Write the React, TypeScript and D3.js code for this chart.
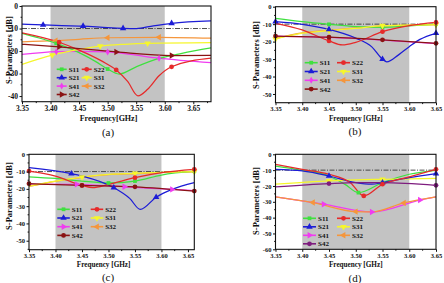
import * as d3 from 'd3';
import { useRef, useEffect } from 'react';

// [frequency GHz, dB, 1 = marker drawn]
type Pt = [number, number, number?];

// (a)
const aS11: Pt[] = [[3.35, -12.1], [3.38, -14.2], [3.41, -16.6, 1], [3.45, -20.7], [3.48, -24.8], [3.50, -28, 1], [3.52, -30.2], [3.55, -27], [3.59, -23.3], [3.63, -21], [3.681, -18.6]];
const aS21: Pt[] = [[3.35, -8.0], [3.387, -8.4, 1], [3.42, -8.7], [3.457, -8.9, 1], [3.50, -9.6], [3.527, -9.9, 1], [3.55, -10], [3.58, -8.8], [3.612, -7.7, 1], [3.681, -6.6]];
const aS41: Pt[] = [[3.35, -21.5], [3.41, -20.3, 1], [3.45, -20.1], [3.50, -20.4, 1], [3.54, -21.5], [3.59, -23.2, 1], [3.681, -25.2]];
const aS42: Pt[] = [[3.35, -17], [3.415, -18.1, 1], [3.515, -20.4, 1], [3.612, -22.0, 1], [3.681, -21.9]];
const aS22: Pt[] = [[3.35, -11.9], [3.415, -16.1, 1], [3.45, -19.6], [3.49, -24.5], [3.515, -28.4, 1], [3.535, -33.5], [3.553, -39.9], [3.57, -37], [3.59, -31], [3.612, -27, 1], [3.681, -23.2]];
const aS31: Pt[] = [[3.35, -25.9], [3.403, -21.8, 1], [3.45, -19.3], [3.487, -17.8, 1], [3.53, -17], [3.57, -16.6, 1], [3.681, -16.3]];
const aS32: Pt[] = [[3.35, -15.9], [3.409, -15.4, 1], [3.45, -14.8], [3.50, -14.1, 1], [3.59, -13.9, 1], [3.681, -14.3]];

// (b)
const bS11: Pt[] = [[3.35, -6.7], [3.40, -8.6], [3.45, -10.1, 1], [3.50, -11.4], [3.55, -11.8, 1], [3.60, -11.0], [3.65, -10.0, 1]];
const bS21: Pt[] = [[3.35, -8.6, 1], [3.40, -10.1], [3.45, -13, 1], [3.50, -18], [3.53, -23], [3.55, -30.1, 1], [3.558, -31.6], [3.58, -27.6], [3.60, -22.9], [3.62, -18.7], [3.65, -15.2, 1]];
const bS41: Pt[] = [[3.35, -16.9], [3.45, -17.6], [3.55, -19.1], [3.65, -21.1]];
const bS42: Pt[] = [[3.35, -16.8, 1], [3.45, -17.5, 1], [3.55, -19, 1], [3.65, -21, 1]];
const bS22: Pt[] = [[3.35, -9.5], [3.40, -13.3], [3.45, -19.6, 1], [3.475, -21.9], [3.50, -20.4], [3.55, -14.3, 1], [3.60, -10.9], [3.65, -9.0, 1]];
const bS31: Pt[] = [[3.35, -18.5, 1], [3.40, -15.2], [3.45, -13.7, 1], [3.50, -12.4], [3.55, -10.9, 1], [3.60, -10.5], [3.65, -10.3, 1]];
const bS32: Pt[] = [[3.35, -18.2], [3.40, -15], [3.45, -13.5], [3.50, -12.2], [3.55, -11], [3.60, -10.6], [3.65, -10.4]];

// (c)
const cS11: Pt[] = [[3.35, -13], [3.40, -14], [3.45, -15.5], [3.50, -16.6, 1], [3.55, -15.5, 1], [3.60, -12], [3.662, -9.8, 1]];
const cS21: Pt[] = [[3.35, -7.7], [3.43, -11.2, 1], [3.45, -12.6], [3.51, -19.3, 1], [3.54, -25.5], [3.56, -31.9], [3.59, -24.8, 1], [3.62, -20.3], [3.662, -16.4]];
const cS41: Pt[] = [[3.35, -17.2], [3.44, -17.4, 1], [3.53, -18.8, 1], [3.62, -20.3, 1], [3.662, -21]];
const cS42: Pt[] = [[3.35, -17, 1], [3.45, -18, 1], [3.55, -18.8, 1], [3.662, -21.3, 1]];
const cS22: Pt[] = [[3.35, -9.7, 1], [3.40, -12.6], [3.45, -18, 1], [3.47, -19.3], [3.50, -17.4], [3.55, -13.5, 1], [3.60, -10.6], [3.662, -8.7, 1]];
const cS31: Pt[] = [[3.35, -18.4], [3.40, -15.5], [3.45, -13.2, 1], [3.50, -11.6], [3.55, -11, 1], [3.60, -10.4], [3.662, -10, 1]];
const cS32: Pt[] = [[3.35, -18.6], [3.40, -15.7], [3.45, -13.4], [3.50, -11.8], [3.55, -11.2], [3.60, -10.6], [3.662, -10.2]];

// (d)
const dS11: Pt[] = [[3.35, -7.4], [3.40, -10.1], [3.45, -13.7], [3.48, -19], [3.505, -24.2, 1], [3.55, -17.9, 1], [3.60, -12.6], [3.65, -10.1]];
const dS21: Pt[] = [[3.35, -9.5], [3.40, -10.5], [3.45, -13.7, 1], [3.50, -17.9], [3.53, -18.9], [3.55, -17.9, 1], [3.60, -14.7], [3.65, -12.2, 1]];
const dS41: Pt[] = [[3.35, -26.9], [3.44, -31.5, 1], [3.53, -36.4, 1], [3.62, -28.9, 1], [3.65, -26.9]];
const dS42: Pt[] = [[3.35, -20.6], [3.45, -18.5, 1], [3.50, -17.9], [3.55, -17.9], [3.65, -19.6, 1]];
const dS22: Pt[] = [[3.35, -6.3], [3.40, -9.5], [3.45, -12.6], [3.49, -17.9], [3.515, -26.3, 1], [3.55, -18.9, 1], [3.60, -14.3], [3.65, -9.5, 1]];
const dS31: Pt[] = [[3.35, -18.9], [3.45, -16.8, 1], [3.50, -16.2], [3.55, -15.8, 1], [3.65, -15.2]];
const dS32: Pt[] = [[3.35, -26.9], [3.42, -30.5, 1], [3.50, -36.2, 1], [3.53, -36.4], [3.59, -30.7, 1], [3.65, -26.9]];

const xTicks = [3.35, 3.40, 3.45, 3.50, 3.55, 3.60, 3.65];
const yTicksA = [0, -10, -20, -30, -40];
const yTicksB = [0, -10, -20, -30, -40, -50];
const yTicksD = [0, -10, -20, -30, -40, -50, -60];
const legendCol1 = ['S11', 'S21', 'S41', 'S42'];
const legendCol2 = ['S22', 'S31', 'S32'];
const drawOrder = ['S41', 'S32', 'S11', 'S31', 'S21', 'S22', 'S42'];

const colors: Record<string, string> = {
  S11: '#3fe03f', S21: '#1c1cd6', S41: '#f03cf0', S42: '#8a1313',
  S22: '#e62a2a', S31: '#f6f62c', S32: '#f5963c',
};
const shapes: Record<string, string> = {
  S11: 'square', S21: 'up', S41: 'diamond', S42: 'right',
  S22: 'circle', S31: 'down', S32: 'left',
};

const panels = [
  {
    caption: '(a)', box: [22, 211, 6, 101.7], xMax: 3.681, yMin: -42.5, yTicks: yTicksA,
    data: { S11: aS11, S21: aS21, S41: aS41, S42: aS42, S22: aS22, S31: aS31, S32: aS32 } as Record<string, Pt[]>,
    legend: { x1: 56.7, x2: 81.7, len: 10, y: 69.3, dy: 8.4 },
    tickFont: 7.5, xTitle: 'Frequency[GHz]', xTitleFont: 8, yTitle: 'S-Parameters [dB]',
    xTitleY: 121, yTitleX: 10, yTitleY: 50, captionY: 135.5, cx: 108, over: {} as Record<string, string>,
  },
  {
    caption: '(b)', box: [275.5, 436, 6.7, 102.7], xMax: 3.65, yMin: -55, yTicks: yTicksB,
    data: { S11: bS11, S21: bS21, S41: bS41, S42: bS42, S22: bS22, S31: bS31, S32: bS32 } as Record<string, Pt[]>,
    legend: { x1: 304.7, x2: 337, len: 13, y: 62.7, dy: 8.8 },
    tickFont: 6.5, xTitle: 'Frequency  [GHz]', xTitleFont: 7.2, yTitle: 'S-Parameters  [dB]',
    xTitleY: 120.5, yTitleX: 257, yTitleY: 55, captionY: 135, cx: 355, over: { S42: 'circle' } as Record<string, string>,
  },
  {
    caption: '(c)', box: [29, 194.3, 154.3, 249.7], xMax: 3.662, yMin: -55.2, yTicks: yTicksB,
    data: { S11: cS11, S21: cS21, S41: cS41, S42: cS42, S22: cS22, S31: cS31, S32: cS32 } as Record<string, Pt[]>,
    legend: { x1: 57.3, x2: 90.7, len: 12.5, y: 209.3, dy: 8.7 },
    tickFont: 6.5, xTitle: 'Frequency  [GHz]', xTitleFont: 7.2, yTitle: 'S-Parameters  [dB]',
    xTitleY: 267, yTitleX: 10, yTitleY: 196, captionY: 280.5, cx: 108, over: { S41: 'right', S42: 'circle' } as Record<string, string>,
  },
  {
    caption: '(d)', box: [275.5, 436, 154.3, 249.3], xMax: 3.65, yMin: -60, yTicks: yTicksD,
    data: { S11: dS11, S21: dS21, S41: dS41, S42: dS42, S22: dS22, S31: dS31, S32: dS32 } as Record<string, Pt[]>,
    legend: { x1: 303, x2: 337, len: 13, y: 218.3, dy: 8.5 },
    tickFont: 6.5, xTitle: 'Frequency  [GHz]', xTitleFont: 7.2, yTitle: 'S-Parameters  [dB]',
    xTitleY: 266.5, yTitleX: 257, yTitleY: 201, captionY: 281.5, cx: 355, over: { S41: 'right', S42: 'circle' } as Record<string, string>,
    purple: true,
  },
];

const FONT = "'Liberation Serif', 'Times New Roman', serif";

function markerPath(shape: string) {
  const type = shape === 'square' ? d3.symbolSquare
    : shape === 'circle' ? d3.symbolCircle
    : shape === 'diamond' ? d3.symbolDiamond
    : d3.symbolTriangle;
  const size = shape === 'circle' ? 18 : shape === 'square' ? 14 : shape === 'diamond' ? 14 : 18;
  return d3.symbol().type(type).size(size)() as string;
}

function markerRotate(shape: string) {
  if (shape === 'down') return 180;
  if (shape === 'right') return 90;
  if (shape === 'left') return -90;
  return 0;
}

function App() {
  const svgRef = useRef<SVGSVGElement>(null);

  useEffect(() => {
    const svg = d3.select(svgRef.current);
    svg.selectAll('*').remove();

    panels.forEach((p, i) => {
      const [l, r, t, b] = p.box;
      const x = d3.scaleLinear().domain([3.35, p.xMax]).range([l, r]);
      const y = d3.scaleLinear().domain([p.yMin, 0]).range([b, t]);
      const colorOf = (s: string) => (s === 'S42' && (p as any).purple ? '#7e1c7e' : colors[s]);
      const shapeOf = (s: string) => p.over[s] || shapes[s];
      const g = svg.append('g');

      const clipId = `plot-clip-${i}`;
      g.append('clipPath').attr('id', clipId)
        .append('rect').attr('x', l).attr('y', t).attr('width', r - l).attr('height', b - t);

      // 3.4–3.6 GHz band
      g.append('rect')
        .attr('x', x(3.4)).attr('y', t)
        .attr('width', x(3.6) - x(3.4)).attr('height', b - t)
        .attr('fill', '#c3c3c3');

      // -10 dB reference
      g.append('line')
        .attr('x1', l).attr('x2', r).attr('y1', y(-10)).attr('y2', y(-10))
        .attr('stroke', '#3a3a3a').attr('stroke-width', 0.9)
        .attr('stroke-dasharray', '5,1.5,1,1.5');

      const line = d3.line<Pt>()
        .x(d => x(d[0]))
        .y(d => y(d[1]))
        .curve(d3.curveMonotoneX);

      const plot = g.append('g').attr('clip-path', `url(#${clipId})`);
      drawOrder.forEach(s => {
        plot.append('path')
          .datum(p.data[s])
          .attr('d', line)
          .attr('fill', 'none')
          .attr('stroke', colorOf(s))
          .attr('stroke-width', 1.25);
      });

      drawOrder.forEach(s => {
        const shape = shapeOf(s);
        g.selectAll(null)
          .data(p.data[s].filter(d => d[2]))
          .enter()
          .append('path')
          .attr('d', markerPath(shape))
          .attr('transform', d => `translate(${x(d[0])},${y(d[1])}) rotate(${markerRotate(shape)})`)
          .attr('fill', colorOf(s));
      });

      // frame
      g.append('rect')
        .attr('x', l).attr('y', t).attr('width', r - l).attr('height', b - t)
        .attr('fill', 'none').attr('stroke', '#111').attr('stroke-width', 1.1);

      // axes
      const xAxis = g.append('g')
        .attr('transform', `translate(0,${b})`)
        .call(d3.axisBottom(x).tickValues(xTicks).tickFormat(d3.format('.2f')).tickSize(2.5).tickSizeOuter(0).tickPadding(1.5));
      const yAxis = g.append('g')
        .attr('transform', `translate(${l},0)`)
        .call(d3.axisLeft(y).tickValues(p.yTicks).tickFormat(d => String(d)).tickSize(2.5).tickSizeOuter(0).tickPadding(1.5));
      [xAxis, yAxis].forEach(ax => {
        ax.select('.domain').remove();
        ax.selectAll('line').attr('stroke', '#111');
        ax.selectAll('text')
          .attr('font-family', FONT).attr('font-weight', 'bold')
          .attr('font-size', p.tickFont).attr('fill', '#111');
      });

      // minor ticks
      const xMinor = xTicks.map(v => v + 0.025).filter(v => v < p.xMax);
      g.selectAll(null).data(xMinor).enter().append('line')
        .attr('x1', d => x(d)).attr('x2', d => x(d)).attr('y1', b).attr('y2', b + 1.4)
        .attr('stroke', '#111');
      const yMinor = p.yTicks.map(v => v - 5).filter(v => v > p.yMin);
      g.selectAll(null).data(yMinor).enter().append('line')
        .attr('x1', l - 1.4).attr('x2', l).attr('y1', d => y(d)).attr('y2', d => y(d))
        .attr('stroke', '#111');

      // axis titles and caption
      g.append('text')
        .attr('x', (l + r) / 2 + (i % 2 === 0 ? -8 : 0)).attr('y', p.xTitleY)
        .attr('text-anchor', 'middle')
        .attr('font-family', FONT).attr('font-weight', 'bold').attr('font-size', p.xTitleFont)
        .attr('fill', '#111')
        .text(p.xTitle);
      g.append('text')
        .attr('transform', `translate(${p.yTitleX},${p.yTitleY}) rotate(-90)`)
        .attr('text-anchor', 'middle').attr('dominant-baseline', 'middle')
        .attr('font-family', FONT).attr('font-weight', 'bold').attr('font-size', 8.5)
        .attr('fill', '#111')
        .text(p.yTitle);
      g.append('text')
        .attr('x', p.cx).attr('y', p.captionY)
        .attr('text-anchor', 'middle')
        .attr('font-family', FONT).attr('font-size', 11)
        .attr('fill', '#111')
        .text(p.caption);

      // legend
      const lg = p.legend;
      const items = [
        ...legendCol1.map((s, k) => ({ s, x: lg.x1, y: lg.y + k * lg.dy })),
        ...legendCol2.map((s, k) => ({ s, x: lg.x2, y: lg.y + k * lg.dy })),
      ];
      items.forEach(it => {
        const shape = shapeOf(it.s);
        g.append('line')
          .attr('x1', it.x).attr('x2', it.x + lg.len)
          .attr('y1', it.y).attr('y2', it.y)
          .attr('stroke', colorOf(it.s)).attr('stroke-width', 1.6);
        g.append('path')
          .attr('d', markerPath(shape))
          .attr('transform', `translate(${it.x + lg.len / 2},${it.y}) rotate(${markerRotate(shape)})`)
          .attr('fill', colorOf(it.s));
        g.append('text')
          .attr('x', it.x + lg.len + 2).attr('y', it.y + 2.4)
          .attr('font-family', FONT).attr('font-weight', 'bold').attr('font-size', 7)
          .attr('fill', '#111')
          .text(it.s);
      });
    });
  }, []);

  return (
    <svg
      ref={svgRef}
      width={444}
      height={283}
      style={{ position: 'absolute', left: 0, top: 0, background: '#fff' }}
    />
  );
}

export default App;
